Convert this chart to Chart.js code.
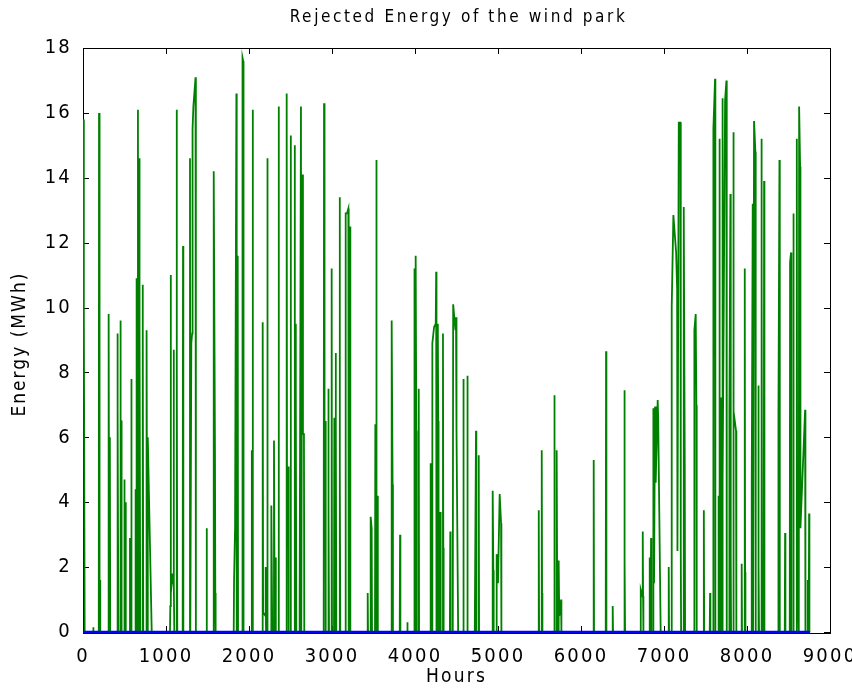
<!DOCTYPE html>
<html>
<head>
<meta charset="utf-8">
<script src="https://cdn.jsdelivr.net/npm/chart.js@4/dist/chart.umd.min.js"></script>
<style>
  html, body { margin: 0; padding: 0; background: #ffffff; }
  #wrap { width: 852px; height: 689px; }
</style>
</head>
<body>
<div id="wrap"><canvas id="myChart" width="852" height="689"></canvas></div>
<script>
// Rejected energy: vertices of the drawn line (hour, MWh)
const hours = [
  0, 10, 20, 121, 124, 127, 190, 193, 197, 202, 205, 208,
  306, 309, 316, 322, 325, 328, 411, 414, 420, 426, 447, 450, 456, 462, 465,
  495, 498, 502, 511, 514, 517, 563, 566, 570, 579, 582, 586,
  627, 630, 638, 643, 646, 655, 662, 666, 675, 678, 684, 690,
  715, 718, 722, 726, 763, 766, 774, 779, 782, 828,
  1048, 1052, 1056, 1060, 1080, 1088, 1092, 1096, 1100,
  1125, 1128, 1132, 1136, 1201, 1205, 1209,
  1285, 1289, 1293, 1300, 1305, 1315, 1320, 1330, 1356, 1360,
  1487, 1490, 1493, 1572, 1575, 1590, 1594, 1598,
  1816, 1820, 1832, 1848, 1852, 1860, 1864, 1868,
  1918, 1922, 1930, 1934, 2028, 2032, 2036, 2040, 2044, 2048,
  2162, 2165, 2170, 2198, 2201, 2205, 2218, 2221, 2225,
  2266, 2269, 2280, 2298, 2301, 2310, 2318, 2321, 2325, 2354, 2357, 2361,
  2450, 2454, 2458, 2474, 2478, 2499, 2502, 2506,
  2547, 2550, 2554, 2558, 2562, 2566, 2570,
  2607, 2610, 2626, 2630, 2638, 2642, 2650, 2662, 2666,
  2900, 2904, 2908, 2912, 2920, 2924, 2952, 2956, 2960, 2964,
  2992, 2996, 3000, 3024, 3028, 3032, 3040, 3044, 3048, 3052,
  3088, 3092, 3096, 3100, 3160, 3165, 3180, 3197, 3201, 3212, 3217, 3221,
  3427, 3430, 3434, 3462, 3466, 3478, 3482,
  3518, 3522, 3530, 3531, 3534, 3538, 3546, 3550, 3554,
  3715, 3719, 3730, 3734, 3816, 3820, 3824, 3905, 3908, 3911,
  3988, 3992, 3996, 4004, 4008, 4016, 4020, 4041, 4045, 4049,
  4185, 4189, 4193, 4205, 4209, 4230, 4250, 4255, 4259,
  4270, 4275, 4280, 4284, 4300, 4305, 4309, 4333, 4337, 4341, 4345,
  4420, 4425, 4429, 4455, 4460, 4470, 4487, 4494, 4500, 4520,
  4580, 4583, 4587, 4628, 4631, 4635, 4720, 4735, 4739, 4764, 4768, 4772,
  4932, 4936, 4944, 4948, 4980, 4984, 5000, 5020, 5037, 5041,
  5487, 5491, 5495, 5523, 5527, 5531, 5535,
  5675, 5679, 5683, 5703, 5707, 5715, 5727, 5731, 5738, 5760, 5764,
  6150, 6153, 6157, 6298, 6302, 6306, 6378, 6382, 6386, 6519, 6523, 6527, 6531,
  6716, 6720, 6740, 6744, 6748, 6752,
  6824, 6828, 6840, 6844, 6848, 6868, 6872, 6880, 6892, 6900, 6924, 6930, 6960,
  7053, 7057, 7061, 7089, 7093, 7113, 7146, 7158, 7162, 7178, 7198, 7202, 7206,
  7234, 7238, 7250, 7254, 7362, 7366, 7382, 7390, 7394, 7476, 7480, 7484,
  7551, 7555, 7559, 7591, 7595, 7615, 7619,
  7652, 7656, 7660, 7664, 7668, 7672, 7684, 7688,
  7700, 7704, 7708, 7736, 7752, 7756,
  7784, 7788, 7800, 7804, 7808, 7832, 7836, 7840, 7868, 7872,
  7932, 7936, 7940, 7969, 7973, 7977, 7981,
  8053, 8057, 8069, 8073, 8081, 8085, 8101, 8105,
  8133, 8137, 8141, 8145, 8170, 8174, 8178, 8182, 8202, 8206, 8210,
  8375, 8379, 8391, 8395, 8455, 8459, 8463,
  8515, 8519, 8531, 8535, 8555, 8559, 8563, 8596, 8600, 8604,
  8624, 8628, 8640, 8644, 8700, 8704, 8728, 8732, 8744, 8748, 8752, 8760
];
const energy = [
  15.8, 10.2, 0, 0, 0.15, 0, 0, 16.0, 0, 0, 1.6, 0,
  0, 9.8, 0, 0, 6.0, 0, 0, 9.2, 7.0, 0, 0, 9.6, 6.5, 6.5, 0,
  0, 4.7, 0, 0, 4.0, 0, 0, 2.9, 0, 0, 7.8, 0,
  0, 4.4, 0, 0, 10.9, 4.5, 16.1, 0, 0, 14.6, 9.5, 0,
  0, 10.7, 9.5, 0, 0, 9.3, 0, 0, 6.0, 0,
  0, 0.8, 11.0, 1.2, 1.8, 1.5, 8.7, 1.5, 0,
  0, 16.1, 8.2, 0, 0, 11.9, 0,
  0, 14.6, 0, 0, 8.9, 9.2, 15.5, 16.2, 17.1, 0,
  0, 3.2, 0, 0, 14.2, 5.6, 1.2, 0,
  0, 1.6, 3.2, 16.6, 0, 0, 11.6, 0,
  0, 17.7, 17.6, 0, 0, 5.6, 0, 0, 16.1, 0,
  0, 9.55, 0.6, 0.5, 2.0, 0, 0, 14.6, 0,
  0, 3.9, 0, 0, 5.9, 0, 0, 2.3, 0, 0, 16.2, 0,
  0, 16.6, 4.4, 5.1, 0, 0, 15.3, 0,
  0, 15.0, 0, 0, 9.5, 7.5, 0,
  0, 0.8, 16.2, 0, 0, 14.1, 6.1, 6.1, 0,
  0, 16.3, 9.3, 3.4, 6.5, 0, 0, 7.5, 4.0, 0,
  0, 11.2, 0, 0, 6.6, 0, 0, 8.6, 6.4, 0,
  0, 13.4, 4.9, 0, 0, 12.9, 12.9, 13.05, 0, 0, 12.5, 0,
  0, 1.2, 0, 0, 3.55, 3.2, 0,
  0, 6.4, 0, 0, 14.55, 0, 0, 4.2, 0,
  0, 9.6, 4.55, 0, 0, 3.0, 0, 0, 0.3, 0,
  0, 11.2, 0, 0, 11.6, 6.2, 0, 0, 7.5, 0,
  0, 5.2, 0, 0, 8.9, 9.4, 9.5, 11.1, 0,
  0, 9.5, 6.5, 0, 0, 3.7, 0, 0, 9.2, 2.6, 0,
  0, 3.1, 0, 0, 10.1, 9.8, 9.3, 9.7, 6.2, 0,
  0, 7.8, 0, 0, 7.9, 0, 0, 6.2, 0, 0, 5.45, 0,
  0, 4.35, 1.9, 0, 0, 2.4, 1.5, 4.25, 3.35, 0,
  0, 3.75, 0, 0, 5.6, 1.2, 0,
  0, 7.3, 0, 0, 5.6, 0, 0, 2.2, 0.5, 1.0, 0,
  0, 5.3, 0, 0, 8.65, 0, 0, 0.8, 0, 0, 7.45, 2.2, 0,
  0, 1.3, 1.1, 3.1, 1.1, 0,
  0, 2.3, 1.2, 2.9, 0, 0, 6.9, 1.5, 6.95, 4.6, 7.15, 6.6, 0,
  0, 2.0, 0, 0, 10.0, 12.85, 11.7, 10.6, 2.5, 15.7, 15.7, 2.5, 0,
  0, 13.1, 5.2, 0, 0, 9.3, 9.8, 7.0, 0, 0, 3.75, 0,
  0, 1.2, 0, 0, 15.5, 17.05, 0,
  0, 4.2, 0, 0, 15.2, 7.2, 7.2, 0,
  0, 16.45, 4.6, 16.4, 17.0, 0,
  0, 6.8, 13.5, 2.35, 0, 0, 15.4, 6.8, 6.2, 0,
  0, 2.1, 0, 0, 11.2, 1.85, 0,
  0, 4.55, 13.2, 0, 0, 15.75, 14.8, 0,
  0, 7.6, 2.05, 0, 0, 15.2, 11.0, 0, 0, 13.9, 0,
  0, 6.8, 14.55, 0, 0, 3.05, 0,
  0, 11.4, 11.7, 0, 0, 12.9, 0, 0, 15.2, 3.2,
  0, 16.2, 14.35, 3.2, 6.85, 0, 0, 1.6, 0, 3.65, 0, 0
];

// blue base line along zero
const baseHours = [0, 8760];
const baseEnergy = [0, 0];

const xTicks = [0, 1000, 2000, 3000, 4000, 5000, 6000, 7000, 8000, 9000];
const yTicks = [0, 2, 4, 6, 8, 10, 12, 14, 16, 18];

const titleText = 'Rejected Energy of the wind park';
const yTitleText = 'Energy (MWh)';

const fontFamily = "'Liberation Sans Narrow', 'DejaVu Sans Condensed', sans-serif";

// spaced-out lettering like the original figure
const spacing = {
  id: 'spacing',
  beforeUpdate(chart) { chart.ctx.letterSpacing = '2.2px'; },
  beforeDraw(chart) { chart.ctx.letterSpacing = '2.2px'; }
};

// box round the plot with inward tick marks, drawn under the lines
const box = {
  id: 'box',
  beforeDatasetsDraw(chart) {
    const ctx = chart.ctx;
    const a = chart.chartArea;
    const xs = chart.scales.x, ys = chart.scales.y;
    ctx.save();
    ctx.strokeStyle = '#000000';
    ctx.lineWidth = 1;
    ctx.strokeRect(Math.round(a.left) + 0.5, Math.round(a.top) + 0.5,
                   Math.round(a.right - a.left), Math.round(a.bottom - a.top) + 1);
    ctx.beginPath();
    for (let v of xTicks) {
      let px = Math.round(xs.getPixelForValue(v)) + 0.5;
      ctx.moveTo(px, a.top); ctx.lineTo(px, a.top + 6);
      ctx.moveTo(px, a.bottom); ctx.lineTo(px, a.bottom - 6);
    }
    for (let v of yTicks) {
      let py = Math.round(ys.getPixelForValue(v)) + 0.5;
      ctx.moveTo(a.left, py); ctx.lineTo(a.left + 6, py);
      ctx.moveTo(a.right, py); ctx.lineTo(a.right - 6, py);
    }
    ctx.stroke();
    ctx.restore();
  },
  afterDraw(chart) {
    const ctx = chart.ctx;
    const a = chart.chartArea;
    ctx.save();
    ctx.fillStyle = '#000000';
    ctx.textAlign = 'center';
    ctx.textBaseline = 'middle';
    ctx.letterSpacing = '2.6px';
    ctx.font = '17px ' + fontFamily;
    ctx.fillText(titleText, (a.left + a.right) / 2 + 2, 18);

    ctx.letterSpacing = '2px';
    ctx.font = '19px ' + fontFamily;
    ctx.translate(20, (a.top + a.bottom) / 2 + 4);
    ctx.rotate(-Math.PI / 2);
    ctx.fillText(yTitleText, 0, 0);
    ctx.restore();
  }
};

const ctx = document.getElementById('myChart');

new Chart(ctx, {
  type: 'line',
  data: {
    datasets: [
      {
        label: 'Base',
        data: baseHours.map((h, i) => ({ x: h, y: baseEnergy[i] })),
        borderColor: '#0000ff',
        borderWidth: 2.5,
        pointRadius: 0,
        clip: false,
        order: 0
      },
      {
        label: 'Rejected energy',
        data: hours.map((h, i) => ({ x: h, y: energy[i] })),
        borderColor: '#008000',
        borderWidth: 1.8,
        pointRadius: 0,
        tension: 0,
        order: 1
      }
    ]
  },
  options: {
    responsive: false,
    animation: false,
    devicePixelRatio: 1,
    layout: { padding: { left: 0, right: 22, top: 48, bottom: 0 } },
    plugins: {
      legend: { display: false },
      tooltip: { enabled: false },
      title: { display: false }
    },
    scales: {
      x: {
        type: 'linear',
        min: 0,
        max: 9000,
        grid: { display: false },
        border: { display: false },
        afterBuildTicks: (s) => { s.ticks = xTicks.map(v => ({ value: v })); },
        afterFit: (s) => { s.height = 57; s.paddingLeft = 0; s.paddingRight = 0; },
        ticks: {
          color: '#000000',
          padding: 5,
          maxRotation: 0,
          autoSkip: false,
          callback: (v) => String(v),
          font: { family: fontFamily, size: 20 }
        },
        title: {
          display: true,
          text: 'Hours',
          color: '#000000',
          font: { family: fontFamily, size: 19 },
          padding: { top: 0, bottom: 1 }
        }
      },
      y: {
        min: 0,
        max: 18,
        grid: { display: false },
        border: { display: false },
        afterBuildTicks: (s) => { s.ticks = yTicks.map(v => ({ value: v })); },
        afterFit: (s) => { s.width = 83; s.paddingTop = 0; s.paddingBottom = 0; },
        ticks: {
          color: '#000000',
          padding: 3,
          autoSkip: false,
          font: { family: fontFamily, size: 20 }
        }
      }
    }
  },
  plugins: [spacing, box]
});
</script>
</body>
</html>
